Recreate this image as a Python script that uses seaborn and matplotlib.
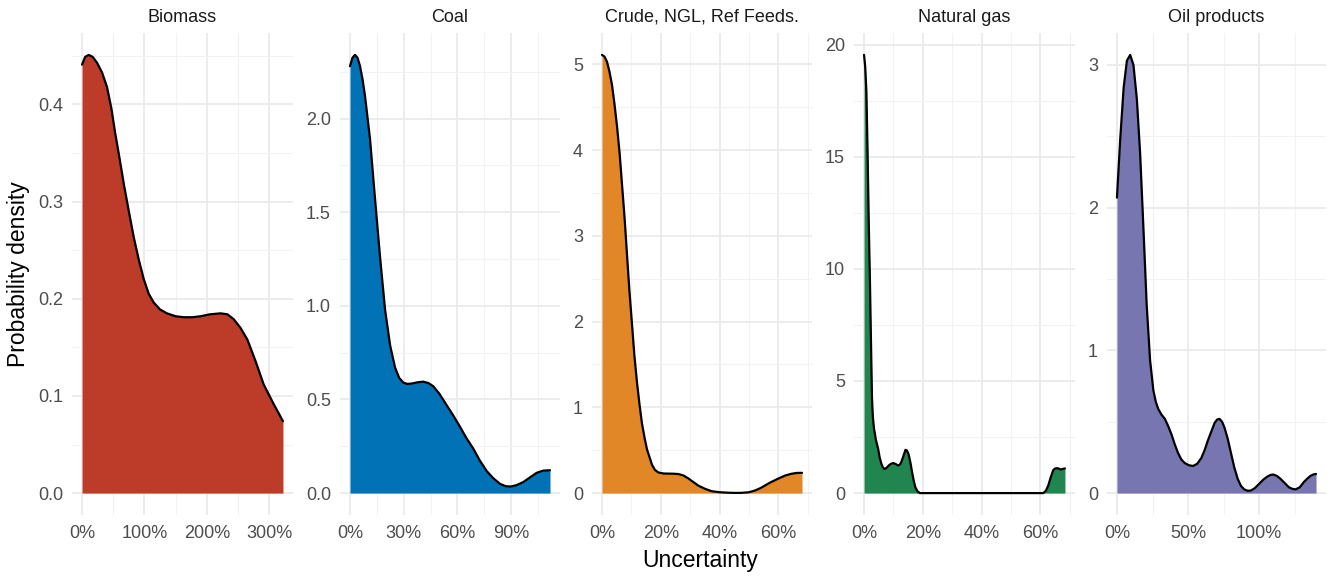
import numpy as np
import pandas as pd
import seaborn as sns
from matplotlib import pyplot as plt
from matplotlib.ticker import MultipleLocator, FuncFormatter

# density curves (x in %, y = density)
biomass_x = [0, 5, 10.7, 17, 24, 32, 40, 47, 53, 60, 67, 75, 83, 91, 99, 107, 115, 125, 136, 150, 163, 177, 190, 205, 222, 233, 243, 254, 265, 278, 291, 306, 322]
biomass_y = [0.441, 0.449, 0.451, 0.449, 0.443, 0.433, 0.418, 0.396, 0.371, 0.345, 0.318, 0.29, 0.263, 0.24, 0.22, 0.205, 0.196, 0.189, 0.185, 0.182, 0.181, 0.181, 0.182, 0.184, 0.185, 0.184, 0.179, 0.17, 0.158, 0.136, 0.112, 0.093, 0.074]

coal_x = [0, 1.4, 2.8, 4.2, 5.6, 7, 8.4, 11.2, 14, 16.8, 19.6, 22.4, 25.2, 27.5, 29.8, 32, 34.5, 38, 41, 44, 46.6, 50, 54, 58, 61.5, 65, 69, 72.5, 76.4, 80, 83.9, 87, 89.8, 93, 96.9, 100.5, 104.3, 108, 111.8]
coal_y = [2.28, 2.325, 2.34, 2.325, 2.28, 2.21, 2.12, 1.89, 1.57, 1.26, 0.98, 0.79, 0.67, 0.615, 0.59, 0.583, 0.585, 0.592, 0.595, 0.587, 0.57, 0.53, 0.47, 0.41, 0.354, 0.295, 0.236, 0.175, 0.118, 0.08, 0.049, 0.037, 0.035, 0.042, 0.059, 0.083, 0.108, 0.12, 0.122]

crude_x = [0, 0.85, 1.7, 2.5, 3.4, 4.2, 5.1, 6, 6.8, 7.7, 8.5, 9.3, 10.2, 11, 11.9, 12.8, 13.6, 14.5, 15.3, 17, 18, 19.2, 21, 22.6, 24.3, 26, 27.7, 29.4, 31, 32.8, 35, 37.3, 40, 43, 45.5, 47.5, 50, 52, 54, 57, 60, 62.3, 64.4, 66.2, 68]
crude_y = [5.11, 5.09, 5.03, 4.92, 4.76, 4.55, 4.28, 3.96, 3.6, 3.2, 2.78, 2.37, 1.97, 1.61, 1.29, 1.02, 0.81, 0.64, 0.51, 0.33, 0.27, 0.24, 0.228, 0.227, 0.226, 0.222, 0.205, 0.17, 0.13, 0.086, 0.05, 0.022, 0.01, 0.004, 0.002, 0.003, 0.01, 0.03, 0.06, 0.12, 0.17, 0.205, 0.225, 0.235, 0.236]

gas_x = [0, 0.4, 0.8, 1.2, 1.6, 2.0, 2.3, 2.7, 3.0, 3.4, 4.0, 4.8, 5.3, 5.9, 6.4, 7.0, 7.7, 8.4, 9.1, 9.9, 10.7, 11.6, 12.2, 12.7, 13.4, 14.1, 14.6, 15.2, 15.8, 16.4, 17.0, 17.5, 18.2, 19.0, 25, 30, 35, 40, 45, 50, 55, 61.0, 61.9, 62.7, 63.5, 64.4, 65.1, 65.9, 66.5, 67.0, 67.7, 68.4]
gas_y = [19.54, 19.0, 17.9, 15.2, 12.1, 9.5, 7.2, 4.26, 3.4, 2.87, 2.4, 1.97, 1.6, 1.31, 1.15, 1.07, 1.13, 1.23, 1.3, 1.34, 1.3, 1.23, 1.27, 1.39, 1.65, 1.93, 1.9, 1.72, 1.35, 0.9, 0.5, 0.25, 0.08, 0.0, 0, 0, 0, 0, 0, 0, 0, 0.0, 0.1, 0.33, 0.68, 1.02, 1.1, 1.11, 1.08, 1.05, 1.08, 1.1]

oil_x = [0, 2.3, 4.7, 7, 9.3, 11.6, 14, 16.3, 18.6, 20.9, 23.3, 25.6, 27.3, 29, 31.3, 33.7, 36, 38.4, 40.7, 43, 45.3, 47.7, 50.6, 53.5, 56.4, 59.3, 61.6, 64, 66.3, 68.6, 70.4, 72.1, 73.9, 75.6, 77.9, 80.2, 82.5, 84.9, 87.2, 89.5, 92, 94.2, 97, 100, 103, 105.8, 108, 110, 112.5, 115, 118, 121, 123.3, 125.6, 128.5, 131.4, 133.7, 136, 138, 140]
oil_y = [2.07, 2.48, 2.84, 3.03, 3.07, 3.0, 2.76, 2.38, 1.86, 1.32, 0.93, 0.72, 0.64, 0.59, 0.55, 0.52, 0.47, 0.41, 0.34, 0.28, 0.235, 0.21, 0.195, 0.19, 0.205, 0.245, 0.3, 0.37, 0.43, 0.49, 0.515, 0.52, 0.5, 0.46, 0.38, 0.28, 0.18, 0.10, 0.05, 0.026, 0.016, 0.018, 0.035, 0.065, 0.095, 0.116, 0.127, 0.13, 0.12, 0.10, 0.07, 0.04, 0.03, 0.026, 0.04, 0.077, 0.1, 0.12, 0.13, 0.134]

sources = ['Biomass', 'Coal', 'Crude, NGL, Ref Feeds.', 'Natural gas', 'Oil products']
colors = ['#BC3C29', '#0072B5', '#E18727', '#20854E', '#7876B1']
x_steps = [100, 30, 20, 20, 50]
y_steps = [0.1, 0.5, 1, 5, 1]
y_fmt = ['{:.1f}', '{:.1f}', '{:.0f}', '{:.0f}', '{:.0f}']

curves = [(biomass_x, biomass_y), (coal_x, coal_y), (crude_x, crude_y),
          (gas_x, gas_y), (oil_x, oil_y)]

sns.set_style('white')
plt.rcParams['font.family'] = ['Liberation Sans', 'DejaVu Sans']

W, H = 1327, 577
fig = plt.figure(figsize=(W / 100, H / 100), dpi=100)

# panel edges in pixels
lefts = [72, 340, 592, 854, 1107]
rights = [293, 560, 812, 1075, 1326]
top, bottom = 33, 515

for i, (name, (xs, ys)) in enumerate(zip(sources, curves)):
    ax = fig.add_axes([lefts[i] / W, 1 - bottom / H,
                       (rights[i] - lefts[i]) / W, (bottom - top) / H])
    df = pd.DataFrame({'x': xs, 'y': ys})
    ax.fill_between(df['x'], df['y'], 0, color=colors[i], lw=0, zorder=2)
    sns.lineplot(data=df, x='x', y='y', ax=ax, color='black', lw=1.6,
                 sort=False, estimator=None, zorder=3)

    xmax, ymax = max(xs), max(ys)
    ax.set_xlim(-0.05 * xmax, 1.05 * xmax)
    ax.set_ylim(-0.05 * ymax, 1.05 * ymax)
    ax.xaxis.set_major_locator(MultipleLocator(x_steps[i]))
    ax.xaxis.set_minor_locator(MultipleLocator(x_steps[i] / 2))
    ax.yaxis.set_major_locator(MultipleLocator(y_steps[i]))
    ax.yaxis.set_minor_locator(MultipleLocator(y_steps[i] / 2))
    ax.xaxis.set_major_formatter(FuncFormatter(lambda v, p: f'{v:.0f}%'))
    ax.yaxis.set_major_formatter(FuncFormatter(lambda v, p, f=y_fmt[i]: f.format(v)))

    ax.grid(which='major', color='#EBEBEB', lw=1.3, zorder=0)
    ax.grid(which='minor', color='#F2F2F2', lw=0.8, zorder=0)
    ax.set_axisbelow(True)
    for s in ax.spines.values():
        s.set_visible(False)
    ax.tick_params(which='both', length=0, labelsize=13, labelcolor='#4D4D4D')
    ax.tick_params(axis='x', pad=7)
    ax.tick_params(axis='y', pad=6.5)
    ax.set_xlabel('')
    ax.set_ylabel('')
    ax.set_title(name, fontsize=13, color='#1A1A1A', pad=8)

fig.text(19 / W, 1 - 274 / H, 'Probability density', rotation=90,
         ha='center', va='center', fontsize=16.5, color='black')
fig.text(700 / W, 1 - 560 / H, 'Uncertainty', ha='center', va='center',
         fontsize=16.5, color='black')

fig.savefig('out.png', dpi=100, facecolor='white')
